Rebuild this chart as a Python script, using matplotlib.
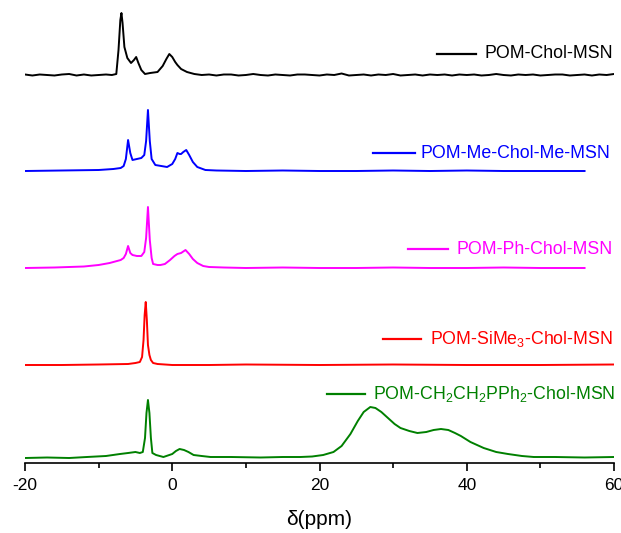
import matplotlib
matplotlib.use("Agg")
import matplotlib.pyplot as plt
from matplotlib.lines import Line2D

plt.rcParams["font.family"] = ["Liberation Sans", "DejaVu Sans"]
plt.rcParams["mathtext.default"] = "regular"
plt.rcParams["axes.unicode_minus"] = False

# 31P NMR spectra, chemical shift (ppm) vs. intensity (arbitrary, stacked)
black_ppm = [-20, -19, -18, -17, -16, -15, -14, -13, -12, -11, -10, -9, -8.2,
             -7.6, -7.3, -7.05, -6.9, -6.75, -6.5, -6.1, -5.6, -5.2, -4.9, -4.6,
             -4.2, -3.7, -3.0, -2.0, -1.3, -0.8, -0.4, 0.0, 0.4, 0.7, 1.2, 2.0,
             3, 4, 5, 6, 7, 8, 9, 10, 11, 12, 13, 14, 15, 16, 17, 18, 19, 20,
             21, 22, 23, 24, 25, 26, 27, 28, 29, 30, 31, 32, 33, 34, 35, 36, 37,
             38, 39, 40, 41, 42, 43, 44, 45, 46, 47, 48, 49, 50, 51, 52, 53, 54,
             55, 56, 57, 58, 59, 60]
black_int = [0.5, -0.5, 0.5, 0, -0.5, 0.5, 1, -0.5, 0.5, -0.5, 0, 0.5, 0,
             1, 25, 55, 62, 52, 28, 17, 12, 15, 18, 12,
             5, 1, 2, 3, 9, 16, 21, 18, 13, 10, 6, 3,
             1, 0, 0.5, -0.5, 0.5, 0.5, -0.5, 0, 1, 0, -0.5, 0.5, 0, -0.5, 0.5, 0.5, 0, -0.5,
             0.5, 0, 1.5, -0.5, 0, 0.5, -0.5, 0.5, 0, 1, -0.5, 0, 0.5, -0.5, 0.5, 0, 0.5,
             -0.5, 0.5, 0, 0.5, -0.5, 0, 1, 0, -0.5, 0.5, 0, 0.5, -0.5, 0, 0.5, 0.5, -0.5,
             0, 0.5, -0.5, 0.5, 0, 1]

blue_ppm = [-20, -15, -10, -8, -7.0, -6.6, -6.3, -6.0, -5.7, -5.4, -4.8, -4.2,
            -3.8, -3.55, -3.3, -3.05, -2.8, -2.3, -1.5, -0.7, 0.0, 0.4, 0.7, 1.0,
            1.2, 1.5, 1.9, 2.3, 2.8, 3.4, 4.5, 6, 10, 15, 20, 25, 30, 35, 40, 45,
            50, 56]
blue_int = [0, 0.5, 1, 2, 3, 5, 12, 31, 18, 11, 12, 13,
            16, 30, 61, 30, 12, 6, 5, 4, 7, 12, 18, 17,
            17, 19, 21, 16, 9, 4, 1, 0.5, 0, 0.5, 0, 0, 0.5, 0, 0.5, 0,
            0, 0]

magenta_ppm = [-20, -16, -12, -10, -8.5, -7.5, -7.0, -6.6, -6.3, -6.0, -5.7,
               -5.4, -4.8, -4.2, -3.8, -3.55, -3.3, -3.05, -2.8, -2.6, -2.0,
               -1.6, -1.0, -0.3, 0.3, 0.7, 1.2, 1.8, 2.3, 2.8, 3.4, 4.2, 5, 7,
               10, 15, 20, 25, 30, 35, 40, 45, 50, 56]
magenta_int = [0, 0.5, 1.5, 3, 5, 7, 8, 10, 14, 22, 15,
               13, 12, 12, 16, 30, 61, 28, 10, 4, 3,
               3, 4, 8, 12, 14, 15, 18, 14, 9, 5, 2, 1, 0.5,
               0, 0.5, 0, 0, 0.5, 0, 0, 0.5, 0, 0]

red_ppm = [-20, -15, -10, -6, -5, -4.4, -4.1, -3.9, -3.75, -3.6, -3.45, -3.3,
           -3.1, -2.9, -2.6, -2.0, -1, 0, 5, 10, 20, 30, 40, 50, 60]
red_int = [0, 0, 0.5, 1, 2, 3, 8, 25, 50, 63, 45, 20,
           10, 5, 2, 1, 0.5, 0, 0, 0.5, 0, 0.5, 0, 0, 0.5]

green_ppm = [-20, -17, -14, -11.6, -9, -7.1, -6, -5.0, -4.4, -4.0, -3.7, -3.5,
             -3.3, -3.1, -2.9, -2.7, -2.2, -1.2, 0, 0.5, 1.0, 1.6, 2.2, 2.9, 4,
             5.2, 8, 12, 15, 17.4, 19, 20.5, 21.9, 23, 24.2, 25.2, 26.0, 26.9,
             27.6, 28.4, 29.3, 30.2, 31.0, 32.2, 33.3, 34.5, 35.5, 36.5, 37.5,
             38.4, 39.2, 40.5, 42.3, 44, 45.6, 47.5, 49.1, 52, 56, 60]
green_int = [0, 0.5, 0, 1, 2, 4, 5, 6, 5, 6, 20, 45,
             58, 45, 20, 5, 3, 1, 4, 7, 9, 8, 6, 3, 2,
             1, 1, 0.5, 1, 1, 1.5, 3, 6, 12, 24, 37, 46, 51,
             50, 46, 40, 34, 30, 27, 25, 26, 28, 29, 28,
             25, 22, 16, 10, 6, 4, 2, 1, 1, 0.5, 1]

names = ["POM-Chol-MSN", "POM-Me-Chol-Me-MSN", "POM-Ph-Chol-MSN",
         "POM-SiMe$_3$-Chol-MSN", "POM-CH$_2$CH$_2$PPh$_2$-Chol-MSN"]
colors = ["black", "#0000ff", "#ff00ff", "#ff0000", "#008000"]
offsets = [388, 292, 195, 98, 5]
# label handle positions in figure pixels: (line x0, line x1, y, text x)
label_pos = [(437, 476, 54, 484), (373, 415, 153, 421), (408, 448, 249, 456),
             (383, 421, 339, 430), (327, 365, 394, 373)]

W, H = 621, 533
fig = plt.figure(figsize=(W / 100, H / 100), dpi=100)
ax = fig.add_axes([25 / W, 70 / H, 589 / W, 463 / H])

spectra = [(black_ppm, black_int), (blue_ppm, blue_int),
           (magenta_ppm, magenta_int), (red_ppm, red_int),
           (green_ppm, green_int)]
for (x, y), c, off in zip(spectra, colors, offsets):
    ax.plot(x, [v + off for v in y], color=c, lw=1.4)

for name, c, (x0, x1, py, tx) in zip(names, colors, label_pos):
    fig.add_artist(Line2D([x0 / W, x1 / W], [1 - py / H, 1 - py / H],
                          transform=fig.transFigure, color=c, lw=1.6))
    fig.text(tx / W, 1 - py / H, name, color=c, fontsize=12.8,
             ha="left", va="center")

ax.set_xlim(-20, 60)
ax.set_ylim(0, 463)
ax.set_xticks([-20, 0, 20, 40, 60])
ax.set_xticks([-10, 10, 30, 50], minor=True)
ax.set_yticks([])
for s in ("left", "right", "top"):
    ax.spines[s].set_visible(False)
ax.spines["bottom"].set_linewidth(1.2)
ax.tick_params(axis="x", which="major", direction="out", length=6, width=1.2,
               labelsize=12.5, pad=5)
ax.tick_params(axis="x", which="minor", direction="out", length=3.5, width=1.2)
ax.set_xlabel("δ(ppm)", fontsize=15, labelpad=12)

fig.savefig("out.png", dpi=100)
